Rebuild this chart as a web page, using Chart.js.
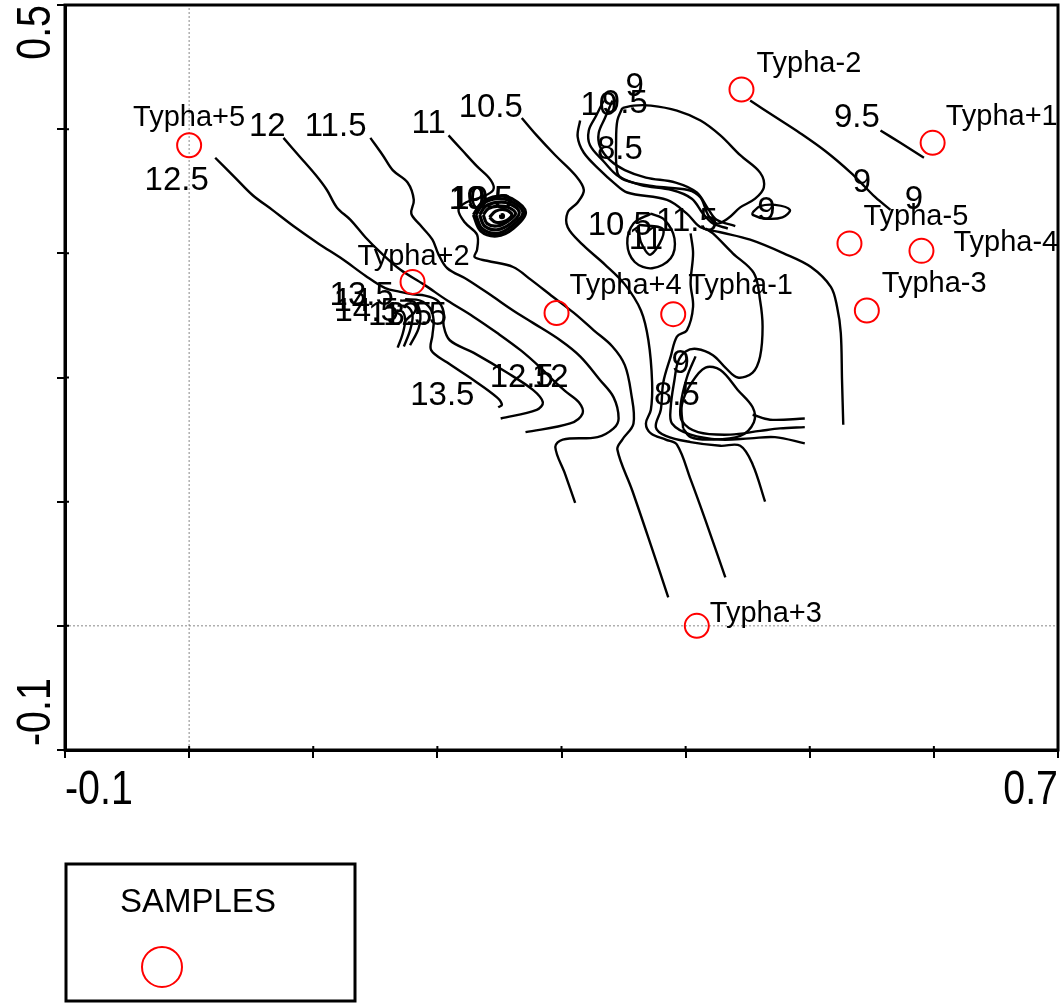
<!DOCTYPE html>
<html>
<head>
<meta charset="utf-8">
<script src="https://cdn.jsdelivr.net/npm/chart.js@4.4.1/dist/chart.umd.min.js"></script>
<style>
html,body{margin:0;padding:0;background:#fff;}
canvas{display:block;}
</style>
</head>
<body>
<canvas id="c" width="1063" height="1005"></canvas>
<script>
// ---------------- DATA ----------------
const xTickValues = [-0.1, 0.7];
const xTickLabels = ['-0.1', '0.7'];
const yTickValues = [-0.1, 0.5];
const yTickLabels = ['-0.1', '0.5'];
const legendTitle = 'SAMPLES';

const sampleNames = ['Typha+5','Typha-2','Typha+1','Typha-5','Typha-4','Typha-3','Typha+2','Typha+4','Typha-1','Typha+3'];
const sampleX = [0.000, 0.445, 0.599, 0.532, 0.590, 0.546, 0.180, 0.296, 0.390, 0.409];
const sampleY = [0.387, 0.432, 0.389, 0.308, 0.302, 0.254, 0.277, 0.252, 0.251, 0.000];

// contour isolines, [x, y] pairs in axis units
const c12_5 = [[0.021,0.377],[0.037,0.361],[0.051,0.347],[0.067,0.335],[0.084,0.322],[0.104,0.308],[0.124,0.295],[0.142,0.282],[0.158,0.272],[0.170,0.269],[0.180,0.267],[0.190,0.266],[0.200,0.262],[0.205,0.253],[0.205,0.242],[0.210,0.230],[0.229,0.220],[0.256,0.204],[0.277,0.190],[0.285,0.180],[0.280,0.174],[0.251,0.167]];
const c13 = [[0.174,0.263],[0.186,0.262],[0.194,0.256],[0.197,0.246],[0.196,0.234],[0.195,0.222],[0.208,0.212],[0.229,0.198],[0.248,0.184],[0.252,0.178],[0.249,0.176]];
const c13_5 = [[0.170,0.262],[0.181,0.261],[0.186,0.253],[0.185,0.240],[0.178,0.226]];
const c14 = [[0.168,0.258],[0.176,0.257],[0.180,0.250],[0.178,0.238],[0.173,0.225]];
const c14_5 = [[0.167,0.254],[0.172,0.253],[0.174,0.246],[0.172,0.235],[0.168,0.224]];
const c12 = [[0.076,0.393],[0.089,0.378],[0.102,0.363],[0.111,0.351],[0.119,0.337],[0.130,0.327],[0.142,0.313],[0.154,0.301],[0.170,0.287],[0.189,0.275],[0.208,0.262],[0.229,0.249],[0.248,0.236],[0.267,0.222],[0.283,0.208],[0.293,0.198],[0.303,0.189],[0.314,0.180],[0.317,0.171],[0.307,0.163],[0.271,0.156]];
const c11_5 = [[0.146,0.393],[0.156,0.379],[0.164,0.367],[0.176,0.357],[0.181,0.343],[0.179,0.332],[0.186,0.323],[0.196,0.311],[0.201,0.299],[0.208,0.288],[0.224,0.279],[0.245,0.265],[0.261,0.254],[0.277,0.244],[0.299,0.230],[0.315,0.217],[0.331,0.198],[0.342,0.184],[0.346,0.167],[0.342,0.159],[0.329,0.152],[0.301,0.150],[0.295,0.144],[0.303,0.122],[0.311,0.099]];
const c11 = [[0.209,0.395],[0.220,0.383],[0.232,0.370],[0.243,0.359],[0.245,0.351],[0.235,0.345],[0.223,0.341],[0.217,0.335],[0.222,0.325],[0.232,0.315],[0.232,0.303],[0.230,0.297],[0.240,0.294],[0.261,0.289],[0.275,0.279],[0.293,0.265],[0.310,0.252],[0.326,0.238],[0.341,0.225],[0.351,0.210],[0.356,0.188],[0.358,0.163],[0.349,0.150],[0.345,0.142],[0.357,0.109],[0.372,0.065],[0.386,0.023]];
const c10_5 = [[0.268,0.409],[0.280,0.395],[0.295,0.379],[0.311,0.363],[0.318,0.351],[0.313,0.341],[0.305,0.333],[0.305,0.321],[0.317,0.307],[0.335,0.291],[0.351,0.275],[0.364,0.254],[0.370,0.230],[0.373,0.196],[0.372,0.174],[0.368,0.163],[0.372,0.155],[0.384,0.150],[0.393,0.146],[0.404,0.118],[0.416,0.085],[0.432,0.039]];
const blob1 = [[0.229,0.331],[0.236,0.341],[0.248,0.346],[0.260,0.344],[0.271,0.333],[0.261,0.320],[0.248,0.314],[0.235,0.318],[0.229,0.331]];
const blob2 = [[0.231,0.331],[0.237,0.340],[0.248,0.344],[0.259,0.342],[0.269,0.333],[0.260,0.322],[0.248,0.316],[0.236,0.320],[0.231,0.331]];
const blob3 = [[0.234,0.331],[0.239,0.338],[0.248,0.341],[0.258,0.340],[0.266,0.333],[0.259,0.324],[0.248,0.319],[0.238,0.322],[0.234,0.331]];
const blob4 = [[0.237,0.331],[0.241,0.336],[0.249,0.338],[0.257,0.337],[0.263,0.332],[0.257,0.326],[0.248,0.322],[0.240,0.324],[0.237,0.331]];
const blob5 = [[0.242,0.329],[0.247,0.334],[0.255,0.335],[0.260,0.331],[0.255,0.326],[0.247,0.325],[0.242,0.329]];
const blob6 = [[0.251,0.331],[0.253,0.331],[0.253,0.329],[0.251,0.329],[0.251,0.331]];
const c10_5loop = [[0.372,0.332],[0.383,0.327],[0.391,0.312],[0.388,0.296],[0.373,0.288],[0.359,0.293],[0.353,0.308],[0.358,0.324],[0.372,0.332]];
const c11loop = [[0.362,0.323],[0.382,0.319],[0.372,0.299],[0.364,0.309],[0.362,0.323]];
const c10 = [[0.315,0.407],[0.313,0.394],[0.318,0.381],[0.331,0.367],[0.342,0.357],[0.353,0.349],[0.385,0.343],[0.401,0.332],[0.412,0.321],[0.428,0.317],[0.452,0.311],[0.479,0.300],[0.501,0.289],[0.517,0.273],[0.522,0.257],[0.525,0.236],[0.526,0.198],[0.527,0.162]];
const c9_5a = [[0.334,0.423],[0.328,0.411],[0.322,0.399],[0.323,0.387],[0.334,0.374],[0.346,0.362],[0.364,0.355],[0.389,0.351],[0.405,0.344],[0.414,0.332],[0.422,0.324],[0.434,0.320]];
const c9a = [[0.341,0.423],[0.335,0.409],[0.330,0.397],[0.331,0.386],[0.339,0.375],[0.351,0.367],[0.368,0.361],[0.392,0.357],[0.409,0.349],[0.418,0.336],[0.425,0.327],[0.440,0.322]];
const c8_5loop = [[0.349,0.417],[0.345,0.407],[0.344,0.391],[0.345,0.365],[0.351,0.359],[0.374,0.354],[0.402,0.351],[0.412,0.345],[0.418,0.331],[0.425,0.324],[0.434,0.328],[0.444,0.337],[0.456,0.344],[0.463,0.353],[0.460,0.365],[0.444,0.379],[0.428,0.395],[0.412,0.407],[0.393,0.415],[0.372,0.419],[0.358,0.419],[0.349,0.417]];
const c9mini = [[0.454,0.333],[0.460,0.338],[0.472,0.339],[0.484,0.335],[0.478,0.329],[0.464,0.328],[0.454,0.331],[0.454,0.333]];
const c9right = [[0.452,0.423],[0.472,0.410],[0.492,0.397],[0.513,0.382],[0.533,0.365],[0.545,0.353],[0.553,0.345],[0.565,0.335]];
const c9_5right = [[0.557,0.399],[0.573,0.389],[0.592,0.377]];
const c9b = [[0.404,0.316],[0.406,0.300],[0.404,0.276],[0.406,0.257],[0.401,0.238],[0.393,0.233],[0.388,0.217],[0.382,0.196],[0.380,0.174],[0.376,0.160],[0.384,0.153],[0.404,0.148],[0.428,0.145],[0.444,0.145],[0.454,0.130],[0.464,0.100]];
const c9c = [[0.416,0.320],[0.422,0.316],[0.438,0.300],[0.455,0.284],[0.460,0.262],[0.462,0.241],[0.460,0.217],[0.454,0.204],[0.442,0.200],[0.432,0.208],[0.422,0.218],[0.409,0.223],[0.400,0.221],[0.394,0.213],[0.391,0.198],[0.388,0.176],[0.389,0.163],[0.404,0.154],[0.428,0.150],[0.452,0.151],[0.472,0.152],[0.496,0.147]];
const c8_5b = [[0.408,0.217],[0.401,0.200],[0.396,0.178],[0.397,0.165],[0.410,0.156],[0.436,0.154],[0.460,0.157],[0.476,0.159],[0.496,0.160]];
const c8_5pear = [[0.398,0.159],[0.397,0.178],[0.405,0.196],[0.416,0.208],[0.428,0.206],[0.442,0.190],[0.454,0.176],[0.455,0.164],[0.444,0.153],[0.420,0.150],[0.404,0.152],[0.398,0.159]];
const c8_5tail = [[0.454,0.170],[0.468,0.166],[0.496,0.167]];

const contourLines = [c12_5, c13, c13_5, c14, c14_5, c12, c11_5, c11, c10_5,
  c10_5loop, c11loop, c10, c9_5a, c9a, c8_5loop, c9mini, c9right, c9_5right,
  c9b, c9c, c8_5b, c8_5pear, c8_5tail];
const blobLines = [blob1, blob2, blob3, blob4, blob5, blob6];

// contour labels
const contourLabelText = ['12.5','12','11.5','11','10.5',
  '10','10.5','9.5',
  '10','9.5','9','8.5',
  '10.5','11','11.5','9',
  '9','9','9.5',
  '13.5','14','14.5','13.5','12.5',
  '13.5','12.5','12','9','8.5'];
const contourLabelX = [-0.010,0.063,0.118,0.193,0.243,
  0.226,0.235,0.242,
  0.330,0.351,0.359,0.347,
  0.347,0.368,0.401,0.465,
  0.542,0.584,0.538,
  0.139,0.131,0.143,0.170,0.182,
  0.204,0.268,0.291,0.396,0.393];
const contourLabelY = [0.358,0.402,0.402,0.404,0.417,
  0.343,0.343,0.343,
  0.419,0.420,0.434,0.383,
  0.322,0.311,0.325,0.334,
  0.357,0.343,0.409,
  0.266,0.261,0.253,0.250,0.250,
  0.185,0.200,0.200,0.211,0.185];

// ---------------- STYLE (label offsets in px) ----------------
const sampleLabelDx = [0, 15, 13, 14, 32, 15, 1, 13, 15, 13];
const sampleLabelDy = [-19, -17, -18, -18, 0, -18, -17, -19, -20, -4];
const sampleLabelAlign = ['center','left','left','left','left','left','center','left','left','left'];
const FONT = '"Liberation Sans", Arial, Helvetica, sans-serif';

const toXY = arr => arr.map(p => ({x: p[0], y: p[1]}));
const datasets = [];
datasets.push({
  label: 'SAMPLES',
  data: sampleX.map((v, i) => ({x: v, y: sampleY[i]})),
  showLine: false,
  pointRadius: 12,
  pointStyle: 'circle',
  pointBorderColor: '#ff0000',
  pointBackgroundColor: 'rgba(0,0,0,0)',
  pointBorderWidth: 2,
  borderColor: '#ff0000'
});
contourLines.forEach(c => datasets.push({
  data: toXY(c), showLine: true, borderColor: '#000', borderWidth: 2.4,
  pointRadius: 0, tension: 0.35, fill: false
}));
blobLines.forEach(c => datasets.push({
  data: toXY(c), showLine: true, borderColor: '#000', borderWidth: 3.2,
  pointRadius: 0, tension: 0.35, fill: false
}));
// dotted zero reference lines
datasets.push({data: [{x: 0, y: -0.1}, {x: 0, y: 0.5}], showLine: true, borderColor: '#888', borderWidth: 1, borderDash: [2, 2], pointRadius: 0});
datasets.push({data: [{x: -0.1, y: 0}, {x: 0.7, y: 0}], showLine: true, borderColor: '#888', borderWidth: 1, borderDash: [2, 2], pointRadius: 0});

function condText(ctx, t, px, py, sx, rot, align, baseline) {
  ctx.save();
  ctx.translate(px, py);
  if (rot) ctx.rotate(rot);
  ctx.scale(sx, 1);
  ctx.textAlign = align;
  ctx.textBaseline = baseline;
  ctx.fillText(t, 0, 0);
  ctx.restore();
}

const overlay = {
  id: 'overlay',
  afterDatasetsDraw(chart) {
    const {ctx, chartArea: a, scales: {x, y}} = chart;
    ctx.save();
    ctx.fillStyle = '#000';
    ctx.font = '33px ' + FONT;
    ctx.textAlign = 'center';
    ctx.textBaseline = 'middle';
    contourLabelText.forEach((t, i) => {
      ctx.fillText(t, x.getPixelForValue(contourLabelX[i]), y.getPixelForValue(contourLabelY[i]));
    });
    ctx.font = '29px ' + FONT;
    ctx.textBaseline = 'alphabetic';
    sampleNames.forEach((n, i) => {
      ctx.textAlign = sampleLabelAlign[i];
      ctx.fillText(n, x.getPixelForValue(sampleX[i]) + sampleLabelDx[i], y.getPixelForValue(sampleY[i]) + sampleLabelDy[i]);
    });
    // frame
    ctx.strokeStyle = '#000';
    ctx.lineWidth = 3;
    ctx.strokeRect(a.left, a.top, a.right - a.left, a.bottom - a.top);
    // inner halves of the tick marks
    ctx.lineWidth = 2;
    ctx.beginPath();
    x.ticks.forEach(t => { const px = x.getPixelForValue(t.value); ctx.moveTo(px, a.bottom); ctx.lineTo(px, a.bottom - 4); });
    y.ticks.forEach(t => { const py = y.getPixelForValue(t.value); ctx.moveTo(a.left, py); ctx.lineTo(a.left + 4, py); });
    ctx.stroke();
    ctx.restore();
  },
  afterDraw(chart) {
    const {ctx, chartArea: a, scales: {x, y}} = chart;
    ctx.save();
    ctx.fillStyle = '#000';
    ctx.font = '48px ' + FONT;
    xTickValues.forEach((v, i) => {
      condText(ctx, xTickLabels[i], x.getPixelForValue(v), a.bottom + 54, 0.82, 0, i === 0 ? 'left' : 'right', 'alphabetic');
    });
    yTickValues.forEach((v, i) => {
      condText(ctx, yTickLabels[i], a.left - 15, y.getPixelForValue(v) + (i === 0 ? -4 : 0), 0.82, -Math.PI / 2, i === 0 ? 'left' : 'right', 'alphabetic');
    });
    // legend
    ctx.strokeStyle = '#000';
    ctx.lineWidth = 3;
    ctx.strokeRect(66, 864, 289, 137);
    ctx.font = '33px ' + FONT;
    ctx.textAlign = 'left';
    ctx.textBaseline = 'alphabetic';
    ctx.fillText(legendTitle, 120, 912);
    ctx.beginPath();
    ctx.arc(162, 967, 20, 0, Math.PI * 2);
    ctx.strokeStyle = '#ff0000';
    ctx.lineWidth = 2;
    ctx.stroke();
    ctx.restore();
  }
};

new Chart(document.getElementById('c'), {
  type: 'scatter',
  data: {datasets},
  options: {
    responsive: false,
    animation: false,
    devicePixelRatio: 1,
    layout: {autoPadding: false, padding: {top: 5, right: 5, left: 0, bottom: 0}},
    plugins: {legend: {display: false}, tooltip: {enabled: false}},
    scales: {
      x: {
        type: 'linear', min: -0.1, max: 0.7,
        afterFit(s) { s.height = 255; },
        ticks: {display: false, stepSize: 0.1},
        grid: {display: true, drawOnChartArea: false, drawTicks: true, tickLength: 8, color: '#000', lineWidth: 2},
        border: {display: true, color: '#000', width: 3}
      },
      y: {
        type: 'linear', min: -0.1, max: 0.5,
        afterFit(s) { s.width = 65; },
        ticks: {display: false, stepSize: 0.1},
        grid: {display: true, drawOnChartArea: false, drawTicks: true, tickLength: 8, color: '#000', lineWidth: 2},
        border: {display: true, color: '#000', width: 3}
      }
    }
  },
  plugins: [overlay]
});
</script>
</body>
</html>
